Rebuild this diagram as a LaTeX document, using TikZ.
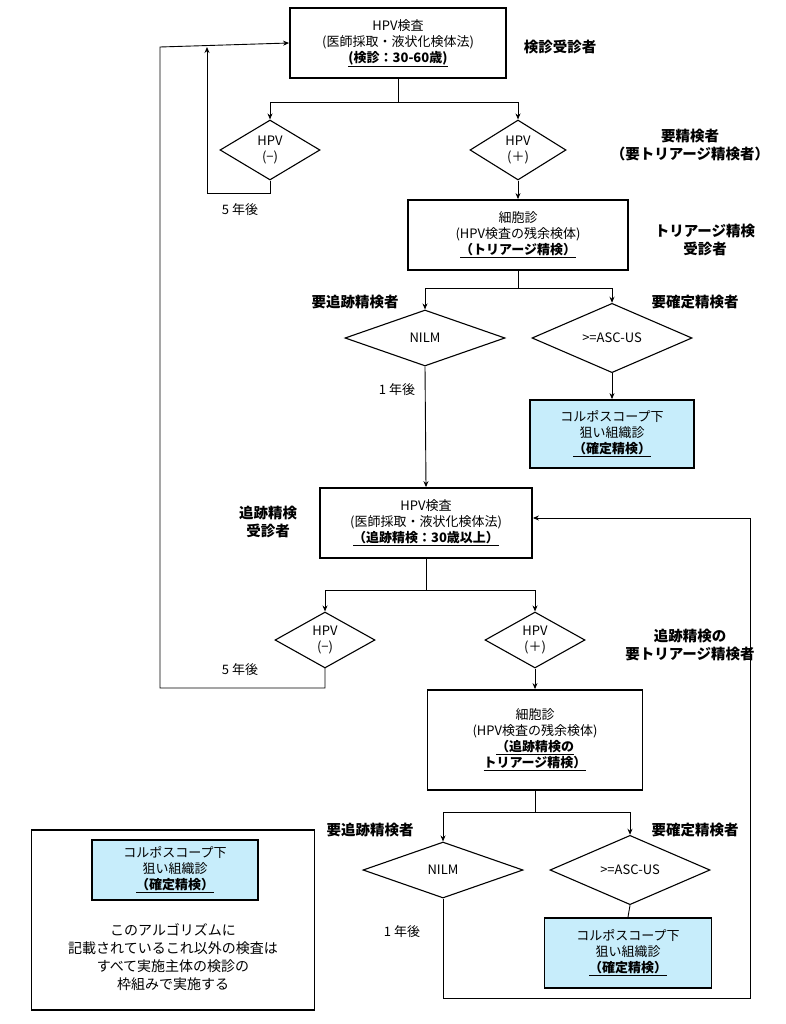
\documentclass[tikz,border=0pt]{standalone}
\usepackage{fontspec}
\setmainfont{Noto Sans CJK JP}
\usetikzlibrary{shapes.geometric,arrows.meta}
\begin{document}
\begin{tikzpicture}[x=1pt,y=-1pt,font=\fontsize{13}{16}\selectfont,
 box/.style={draw,line width=1.8pt,align=center,inner sep=0},
 blue/.style={box,fill=cyan!22!white},
 dia/.style={draw,diamond,line width=1.1pt,inner sep=0,align=center},
 lab/.style={font=\fontsize{14.5}{18}\selectfont\bfseries,align=center},
 ln/.style={line width=0.9pt},
 ar/.style={ln,-{Stealth[length=6pt,width=5pt]}}]
\useasboundingbox (0,0) rectangle (785,1024);
\newcommand{\ul}[1]{\textbf{\underline{#1}}}
% boxes
\node[box,minimum width=216,minimum height=70] (b1) at (398,43) {HPV検査\\(医師採取・液状化検体法)\\\ul{(検診：30-60歳)}};
\node[lab] at (560,47) {検診受診者};
\node[dia,minimum width=100,minimum height=60] (d1) at (270,150) {HPV\\(−)};
\node[dia,minimum width=96,minimum height=60] (d2) at (518,150) {HPV\\(＋)};
\node[lab] at (690,145) {要精検者\\（要トリアージ精検者）};
\node[box,minimum width=220,minimum height=70] (b2) at (518,235) {細胞診\\(HPV検査の残余検体)\\\ul{（トリアージ精検）}};
\node[lab] at (705,240) {トリアージ精検\\受診者};
\node[dia,minimum width=160,minimum height=56] (d3) at (425,338) {NILM};
\node[dia,minimum width=160,minimum height=56] (d4) at (612,338) {>=ASC-US};
\node[lab] at (355,302) {要追跡精検者};
\node[lab] at (695,302) {要確定精検者};
\node[blue,minimum width=164,minimum height=68] (c1) at (612,434) {コルポスコープ下\\狙い組織診\\\ul{（確定精検）}};
\node at (397,390) {1 年後};
\node at (240,210) {5 年後};
\node[box,minimum width=212,minimum height=70] (b3) at (426,523) {HPV検査\\(医師採取・液状化検体法)\\\ul{（追跡精検：30歳以上）}};
\node[lab] at (268,522) {追跡精検\\受診者};
\node[dia,minimum width=100,minimum height=56] (d5) at (325,640) {HPV\\(−)};
\node[dia,minimum width=100,minimum height=56] (d6) at (535,640) {HPV\\(＋)};
\node at (240,670) {5 年後};
\node[lab] at (690,645) {追跡精検の\\要トリアージ精検者};
\node[box,minimum width=215,minimum height=100] (b4) at (535,740) {細胞診\\(HPV検査の残余検体)\\\ul{（追跡精検の}\\\ul{トリアージ精検）}};
\node[dia,minimum width=160,minimum height=56] (d7) at (443,870) {NILM};
\node[dia,minimum width=160,minimum height=56] (d8) at (630,870) {>=ASC-US};
\node[lab] at (370,830) {要追跡精検者};
\node[lab] at (695,830) {要確定精検者};
\node[blue,minimum width=167,minimum height=70] (c2) at (628,953) {コルポスコープ下\\狙い組織診\\\ul{（確定精検）}};
\node at (402,932) {1 年後};
% legend
\node[draw,line width=1.1pt,minimum width=283,minimum height=180] (lg) at (173,920) {};
\node[blue,minimum width=166,minimum height=60] (c3) at (175,870) {コルポスコープ下\\狙い組織診\\\ul{（確定精検）}};
\node[align=center,font=\fontsize{14}{18}\selectfont] (lt) at (173,957) {このアルゴリズムに\\記載されているこれ以外の検査は\\すべて実施主体の検診の\\枠組みで実施する};
% connectors
\coordinate (s1) at (398,102);
\draw[ln] (b1.south) -- (s1);
\draw[ar] (s1) -| (d1.north);
\draw[ar] (s1) -| (d2.north);
\draw[ar] (d1.south) -- (270,193) -- (207,193) -- (207,47);
\draw[ar] (325,668) -- (325,688) -- (160,688) -- (160,47) -- (b1.west);
\draw[ar] (d2.south) -- (b2.north);
\coordinate (s2) at (518,288);
\draw[ln] (b2.south) -- (s2);
\draw[ar] (s2) -| (d3.north);
\draw[ar] (s2) -| (d4.north);
\draw[ar] (d4.south) -- (c1.north);
\draw[ar] (d3.south) -- (b3.north);
\coordinate (s3) at (426,590);
\draw[ln] (b3.south) -- (s3);
\draw[ar] (s3) -| (d5.north);
\draw[ar] (s3) -| (d6.north);
\draw[ar] (d6.south) -- (b4.north);
\coordinate (s4) at (535,812);
\draw[ln] (b4.south) -- (s4);
\draw[ar] (s4) -| (d7.north);
\draw[ar] (s4) -| (d8.north);
\draw[ln] (d8.south) -- (c2.north);
\draw[ar] (d7.south) -- (443,998) -- (750,998) -- (750,518) -- (b3.east |- 0,518);
\end{tikzpicture}
\end{document}
